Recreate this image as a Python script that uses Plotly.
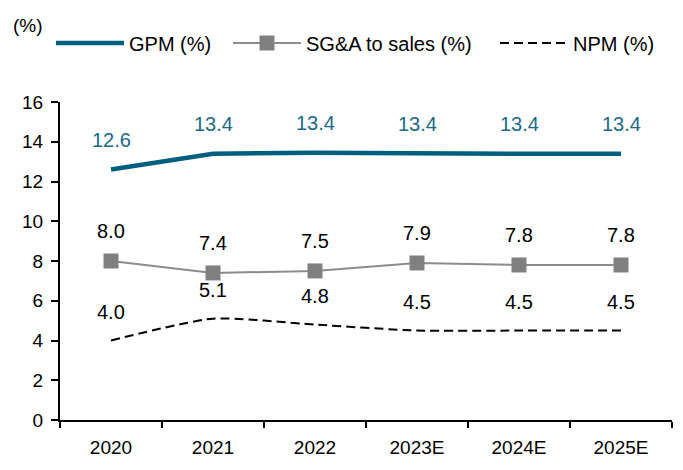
import plotly.graph_objects as go

years = ["2020", "2021", "2022", "2023E", "2024E", "2025E"]
gpm = [12.6, 13.4, 13.45, 13.4, 13.4, 13.4]
gpm_labels = ["12.6", "13.4", "13.4", "13.4", "13.4", "13.4"]
sga = [8.0, 7.4, 7.5, 7.9, 7.8, 7.8]
npm = [4.0, 5.1, 4.8, 4.5, 4.5, 4.5]

FONT = "Liberation Sans, Arial, sans-serif"
TEAL = "#005F7F"
TEAL_TXT = "#1B6A88"
GRAY = "#808080"

fig = go.Figure()
fig.add_trace(go.Scatter(x=years, y=gpm, mode="lines", name="GPM (%)",
                         line=dict(color=TEAL, width=4.5), legend="legend"))
fig.add_trace(go.Scatter(x=years, y=sga, mode="lines+markers", name="SG&A to sales (%)",
                         line=dict(color="#8C8C8C", width=2),
                         marker=dict(symbol="square", size=15, color=GRAY),
                         legend="legend2"))
fig.add_trace(go.Scatter(x=years, y=npm, mode="lines", name="NPM (%)",
                         line=dict(color="black", width=2, dash="9px,5px",
                                   shape="spline", smoothing=0.6),
                         legend="legend3"))

for i, (y, t) in enumerate(zip(gpm, gpm_labels)):
    fig.add_annotation(x=i, y=y, text=t, showarrow=False, yshift=30,
                       font=dict(color=TEAL_TXT, size=20, family=FONT))
for i, y in enumerate(sga):
    fig.add_annotation(x=i, y=y, text=f"{y:.1f}", showarrow=False, yshift=30,
                       font=dict(color="black", size=20, family=FONT))
for i, y in enumerate(npm):
    fig.add_annotation(x=i, y=y, text=f"{y:.1f}", showarrow=False, yshift=29,
                       font=dict(color="black", size=20, family=FONT))

fig.add_annotation(xref="paper", yref="paper", x=-0.08, y=1.242, xanchor="left",
                   yanchor="middle", text="(%)", showarrow=False,
                   font=dict(color="black", size=19, family=FONT))

leg_common = dict(orientation="h", y=1.1855, xanchor="left", yanchor="middle",
                  font=dict(size=20, family=FONT), bgcolor="rgba(0,0,0,0)",
                  itemwidth=68)

fig.update_layout(
    width=675, height=462,
    margin=dict(l=52, r=11, t=94, b=50, autoexpand=False),
    paper_bgcolor="white", plot_bgcolor="white",
    font=dict(family=FONT, size=16, color="black"),
    showlegend=True,
    legend=dict(x=-0.0147, **leg_common),
    legend2=dict(x=0.2745, **leg_common),
    legend3=dict(x=0.7108, **leg_common),
    xaxis=dict(type="category", range=[-0.5, 5.5], showline=True, linecolor="black",
               linewidth=2, ticks="outside", tickson="boundaries", ticklen=6,
               tickwidth=2, tickcolor="black", showgrid=False, zeroline=False,
               ticklabelstandoff=9, tickfont=dict(size=19, family=FONT)),
    yaxis=dict(range=[0, 16], dtick=2, showline=True, linecolor="black", linewidth=2,
               ticks="outside", ticklen=7, tickwidth=2, tickcolor="black",
               showgrid=False, zeroline=False, ticklabelstandoff=4,
               tickfont=dict(size=19, family=FONT)),
)

fig.write_html("out.html")
